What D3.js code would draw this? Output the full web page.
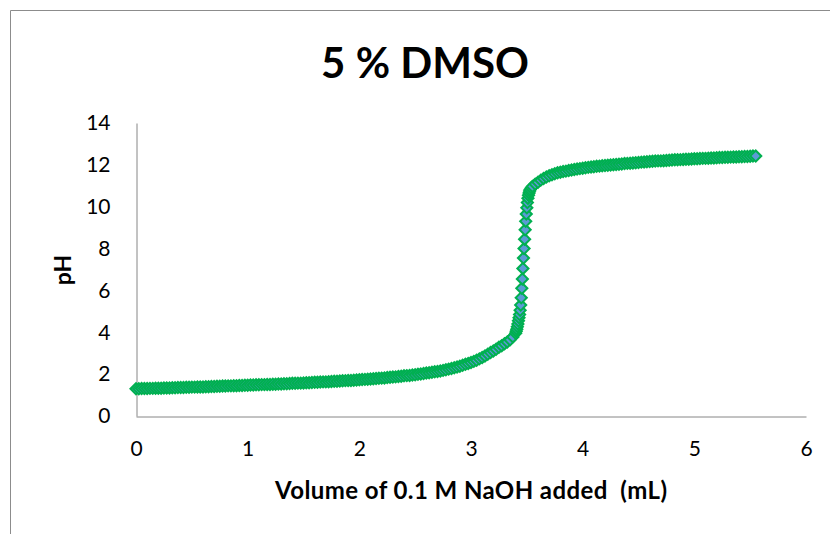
<!DOCTYPE html>
<html>
<head>
<meta charset="utf-8">
<script src="https://cdn.jsdelivr.net/npm/d3@7"></script>
<style>
  body { margin: 0; background: #fff; }
  svg { display: block; font-family: Lato, "Open Sans", sans-serif; }
</style>
</head>
<body>
<div id="chart"></div>
<script>
const chartTitle = "5 % DMSO";
const xLabel = "Volume of 0.1 M NaOH added  (mL)";
const yLabel = "pH";
const xTicks = [0, 1, 2, 3, 4, 5, 6];
const yTicks = [0, 2, 4, 6, 8, 10, 12, 14];

// titration points: NaOH volume (mL) and pH
const volume = [
  0.000, 0.025, 0.050, 0.075, 0.100, 0.125, 0.150, 0.175, 0.200, 0.225, 0.250, 0.275, 0.300, 0.325, 0.350, 0.375,
  0.400, 0.425, 0.450, 0.475, 0.500, 0.525, 0.550, 0.575, 0.600, 0.625, 0.650, 0.675, 0.700, 0.725, 0.750, 0.775,
  0.800, 0.825, 0.850, 0.875, 0.900, 0.925, 0.950, 0.975, 1.000, 1.025, 1.050, 1.075, 1.100, 1.125, 1.150, 1.175,
  1.200, 1.225, 1.250, 1.275, 1.300, 1.325, 1.350, 1.375, 1.400, 1.425, 1.450, 1.475, 1.500, 1.525, 1.550, 1.575,
  1.600, 1.625, 1.650, 1.675, 1.700, 1.725, 1.750, 1.775, 1.800, 1.825, 1.850, 1.875, 1.900, 1.925, 1.950, 1.975,
  2.000, 2.025, 2.050, 2.075, 2.100, 2.125, 2.150, 2.175, 2.200, 2.225, 2.250, 2.275, 2.300, 2.325, 2.350, 2.375,
  2.400, 2.425, 2.450, 2.475, 2.500, 2.525, 2.550, 2.575, 2.600, 2.625, 2.650, 2.675, 2.700, 2.725, 2.750, 2.775,
  2.800, 2.825, 2.850, 2.875, 2.900, 2.925, 2.950, 2.975, 3.000, 3.025, 3.050, 3.075, 3.100, 3.125, 3.150, 3.175,
  3.200, 3.225, 3.250, 3.275, 3.300, 3.325, 3.350, 3.375, 3.400,
  3.405, 3.410, 3.415, 3.420, 3.425, 3.430, 3.435, 3.440, 3.445, 3.450, 3.455, 3.460, 3.465, 3.470, 3.475, 3.480,
  3.485, 3.490, 3.495, 3.500, 3.505, 3.510, 3.515, 3.520, 3.525, 3.530, 3.540, 3.550,
  3.575, 3.600, 3.625, 3.650, 3.675, 3.700, 3.725, 3.750, 3.775, 3.800, 3.825, 3.850, 3.875, 3.900, 3.925, 3.950,
  3.975, 4.000, 4.025, 4.050, 4.075, 4.100, 4.125, 4.150, 4.175, 4.200, 4.225, 4.250, 4.275, 4.300, 4.325, 4.350,
  4.375, 4.400, 4.425, 4.450, 4.475, 4.500, 4.525, 4.550, 4.575, 4.600, 4.625, 4.650, 4.675, 4.700, 4.725, 4.750,
  4.775, 4.800, 4.825, 4.850, 4.875, 4.900, 4.925, 4.950, 4.975, 5.000, 5.025, 5.050, 5.075, 5.100, 5.125, 5.150,
  5.175, 5.200, 5.225, 5.250, 5.275, 5.300, 5.325, 5.350, 5.375, 5.400, 5.425, 5.450, 5.475, 5.500, 5.525, 5.550
];
const pH = [
  1.30, 1.30, 1.31, 1.31, 1.31, 1.32, 1.32, 1.33, 1.33, 1.33, 1.34, 1.34, 1.34, 1.35, 1.35, 1.36,
  1.36, 1.36, 1.37, 1.37, 1.38, 1.38, 1.39, 1.39, 1.39, 1.40, 1.40, 1.41, 1.41, 1.42, 1.42, 1.43,
  1.43, 1.44, 1.44, 1.45, 1.45, 1.46, 1.46, 1.47, 1.47, 1.48, 1.48, 1.49, 1.49, 1.50, 1.50, 1.51,
  1.51, 1.52, 1.52, 1.53, 1.53, 1.54, 1.54, 1.55, 1.56, 1.56, 1.57, 1.57, 1.58, 1.59, 1.59, 1.60,
  1.61, 1.61, 1.62, 1.63, 1.63, 1.64, 1.65, 1.66, 1.66, 1.67, 1.68, 1.69, 1.70, 1.70, 1.71, 1.72,
  1.73, 1.74, 1.75, 1.76, 1.77, 1.78, 1.79, 1.80, 1.81, 1.82, 1.84, 1.85, 1.86, 1.87, 1.89, 1.90,
  1.92, 1.93, 1.94, 1.96, 1.97, 1.99, 2.01, 2.03, 2.05, 2.07, 2.09, 2.11, 2.13, 2.15, 2.18, 2.21,
  2.24, 2.27, 2.31, 2.34, 2.38, 2.42, 2.47, 2.51, 2.56, 2.61, 2.66, 2.73, 2.80, 2.87, 2.95, 3.03,
  3.11, 3.19, 3.28, 3.36, 3.45, 3.54, 3.64, 3.78, 3.95,
  4.05, 4.15, 4.27, 4.40, 4.55, 4.70, 4.85, 5.05, 5.30, 5.65, 6.10, 6.55, 7.05, 7.55, 8.00, 8.45,
  8.90, 9.30, 9.65, 9.95, 10.20, 10.40, 10.55, 10.66, 10.75, 10.82, 10.90, 10.97,
  11.08, 11.17, 11.27, 11.35, 11.42, 11.48, 11.53, 11.58, 11.62, 11.65, 11.68, 11.70, 11.73, 11.75, 11.78, 11.80,
  11.82, 11.84, 11.86, 11.88, 11.90, 11.91, 11.93, 11.94, 11.96, 11.97, 11.98, 11.99, 12.01, 12.02, 12.03, 12.04,
  12.06, 12.07, 12.08, 12.09, 12.10, 12.11, 12.13, 12.14, 12.15, 12.16, 12.17, 12.18, 12.19, 12.19, 12.20, 12.21,
  12.22, 12.23, 12.24, 12.24, 12.25, 12.26, 12.27, 12.27, 12.28, 12.29, 12.29, 12.30, 12.31, 12.31, 12.32, 12.33,
  12.33, 12.34, 12.35, 12.35, 12.36, 12.36, 12.37, 12.38, 12.38, 12.39, 12.39, 12.40, 12.40, 12.41, 12.42, 12.42
];

const points = volume.map((v, i) => ({v: v, p: pH[i]}));

const width = 830;
const height = 534;
const margin = {top: 123, right: 24, bottom: 118, left: 136};

const svg = d3.select("#chart").append("svg")
    .attr("width", width)
    .attr("height", height);

// outer chart-area border (only the top and left edges fall inside the picture)
svg.append("path")
    .attr("d", "M10.5,534 V10.5 H830")
    .attr("fill", "none")
    .attr("stroke", "#8c8c8c")
    .attr("stroke-width", 1);

const x = d3.scaleLinear()
    .domain([0, 6])
    .range([margin.left, width - margin.right]);

const y = d3.scaleLinear()
    .domain([0, 14])
    .range([height - margin.bottom, margin.top]);

const xAxis = svg.append("g")
    .attr("transform", `translate(0,${height - margin.bottom + 0.5})`)
    .call(d3.axisBottom(x).tickValues(xTicks).tickFormat(d3.format("d")).tickSize(0).tickPadding(25));

const yAxis = svg.append("g")
    .attr("transform", `translate(${margin.left + 0.5},0)`)
    .call(d3.axisLeft(y).tickValues(yTicks).tickFormat(d3.format("d")).tickSize(0).tickPadding(26));

[xAxis, yAxis].forEach(g => {
    g.select(".domain").attr("stroke", "#868686");
    g.selectAll("text")
        .attr("fill", "#000")
        .style("font-size", "21px")
        .style("font-family", "Lato, 'Open Sans', sans-serif");
});

svg.append("text")
    .attr("x", 425)
    .attr("y", 78)
    .attr("text-anchor", "middle")
    .style("font-size", "42px")
    .style("font-weight", "bold")
    .text(chartTitle);

svg.append("text")
    .attr("x", 471)
    .attr("y", 499)
    .attr("text-anchor", "middle")
    .attr("textLength", 392)
    .attr("lengthAdjust", "spacing")
    .style("white-space", "pre")
    .style("font-size", "24px")
    .style("font-weight", "bold")
    .text(xLabel);

svg.append("text")
    .attr("transform", "translate(71,270) rotate(-90)")
    .attr("text-anchor", "middle")
    .style("font-size", "23px")
    .style("font-weight", "bold")
    .text(yLabel);

const diamond = d3.symbol().type(d3.symbolSquare).size(62);

svg.append("g")
    .selectAll("path")
    .data(points)
    .join("path")
        .attr("transform", d => `translate(${x(d.v)},${y(d.p)}) rotate(45)`)
        .attr("d", diamond)
        .attr("fill", "#5b9bd5")
        .attr("stroke", "#00b050")
        .attr("stroke-width", 2);
</script>
</body>
</html>
